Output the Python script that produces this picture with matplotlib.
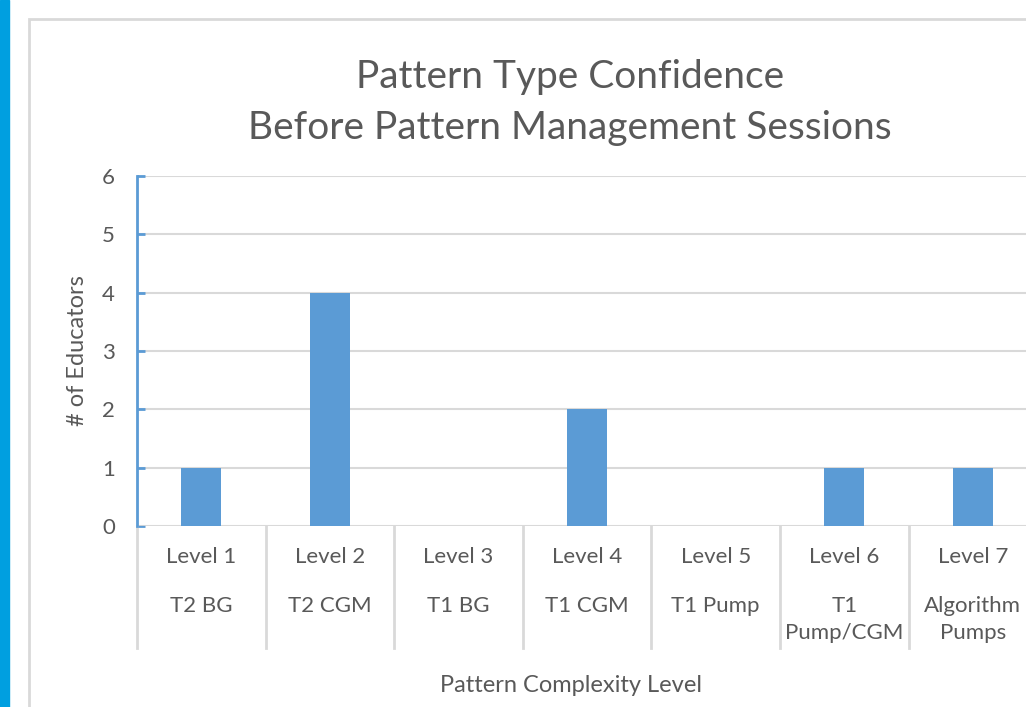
import matplotlib.pyplot as plt
from matplotlib.patches import Rectangle
import matplotlib.transforms as mtransforms

# Data
levels = ['Level 1', 'Level 2', 'Level 3', 'Level 4', 'Level 5', 'Level 6', 'Level 7']
pattern_types = ['T2 BG', 'T2 CGM', 'T1 BG', 'T1 CGM', 'T1 Pump', 'T1\nPump/CGM', 'Algorithm\nPumps']
educators = [1, 4, 0, 2, 0, 1, 1]

plt.rcParams['font.family'] = ['Lato', 'DejaVu Sans']
text_color = '#595959'
bar_color = '#5B9BD5'
grid_color = '#D9D9D9'

W, H = 1026, 707
fig = plt.figure(figsize=(W / 100, H / 100), dpi=100)


def fx(px):
    return px / W


def fy(py):
    return 1 - py / H


# blue stripe on left edge and chart frame
fig.patches.append(Rectangle((0, 0), fx(9), 1, transform=fig.transFigure,
                             color='#009FE0', zorder=0))
fig.patches.append(Rectangle((fx(29), fy(760)), fx(1100), fy(19) - fy(760),
                             transform=fig.transFigure, facecolor='none',
                             edgecolor=grid_color, lw=2, zorder=0))

# plot area
left, right, top, bottom = 137, 137 + 7 * 128.6, 176, 526
ax = fig.add_axes([fx(left), fy(bottom), fx(right - left), fy(top) - fy(bottom)])
x = list(range(len(levels)))
ax.bar(x, educators, width=0.31, color=bar_color, zorder=3)

ax.set_xlim(-0.5, len(levels) - 0.5)
ax.set_ylim(0, 6)
ax.set_yticks(range(0, 7))
ax.yaxis.grid(True, color=grid_color, lw=1.5)
ax.set_axisbelow(True)
ax.set_xticks([])
for s in ['top', 'right', 'bottom']:
    ax.spines[s].set_visible(False)
ax.spines['left'].set_color(bar_color)
ax.spines['left'].set_linewidth(2)
ax.spines['left'].set_zorder(4)
ax.tick_params(axis='y', direction='in', length=6, width=2, color=bar_color,
               labelsize=16, labelcolor=text_color, pad=16)
ax.axhline(0, color=grid_color, lw=2, zorder=2)

# multi-level category axis
trans = mtransforms.blended_transform_factory(ax.transData, ax.transAxes)
sep_depth = -(648 - 526) / (bottom - top)
for b in [i - 0.5 for i in range(len(levels) + 1)]:
    ax.plot([b, b], [0, sep_depth], color=grid_color, lw=2, transform=trans,
            clip_on=False)
for i in x:
    ax.text(i, -(557 - 526) / (bottom - top), levels[i], transform=trans,
            ha='center', va='center', fontsize=16, color=text_color)
    ax.text(i, -(596 - 526) / (bottom - top), pattern_types[i], transform=trans,
            ha='center', va='top', fontsize=16, color=text_color, linespacing=1.45)

ax.set_ylabel('# of Educators', fontsize=17, color=text_color, labelpad=10)

fig.text(fx(570), fy(77), 'Pattern Type Confidence', ha='center', va='center',
         fontsize=28, color=text_color)
fig.text(fx(570), fy(128), 'Before Pattern Management Sessions', ha='center',
         va='center', fontsize=28, color=text_color)
fig.text(fx(571), fy(686), 'Pattern Complexity Level', ha='center', va='center',
         fontsize=17, color=text_color)

plt.savefig('out.png', dpi=100)
